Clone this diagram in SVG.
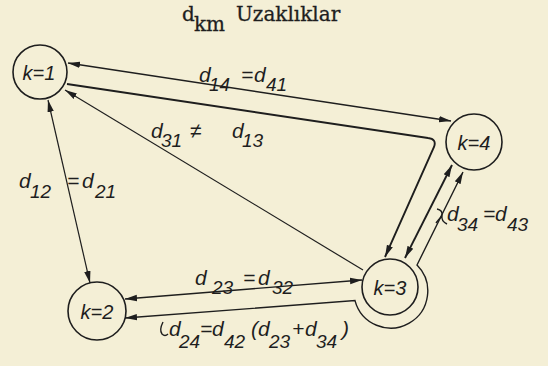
<svg xmlns="http://www.w3.org/2000/svg" width="548" height="366" viewBox="0 0 548 366">
<style>
.bg{fill:#f4efd6}
.node circle{fill:none;stroke:#1e1e1e;stroke-width:1.6}
.node text{font-family:"Liberation Sans",Arial,sans-serif;font-style:italic;font-size:20px;fill:#1e1e1e;text-anchor:middle}
.c{fill:none;stroke:#1e1e1e;stroke-width:1.4}
.thin{stroke-width:1.2}
.thick{stroke-width:1.9}
.lbl text{font-family:"Liberation Sans",Arial,sans-serif;font-style:italic;font-size:21px;fill:#1e1e1e}
.lbl text.s{font-size:19px}
.title{font-family:"DejaVu Serif","Liberation Serif",serif;font-size:20px;fill:#1e1e1e;stroke:#1e1e1e;stroke-width:0.3}
</style>
<defs>
<marker id="ah" viewBox="0 0 12 8" refX="12" refY="4" markerWidth="12" markerHeight="8" markerUnits="userSpaceOnUse" orient="auto-start-reverse">
<path d="M0,0.8 L12,4 L0,7.2 Z" fill="#1e1e1e"/>
</marker>
</defs>
<rect class="bg" x="0" y="0" width="548" height="366"/>
<g id="title">
<text class="title" x="182" y="21">d</text>
<text class="title" x="194" y="31">km</text>
<text class="title" x="236" y="21">Uzaklıklar</text>
</g>
<g id="connectors">
<line class="c" x1="68" y1="63" x2="451" y2="121" marker-start="url(#ah)" marker-end="url(#ah)"/>
<path class="c thick" d="M67,84 L428,138 Q437,139 434,147 L385,257" marker-end="url(#ah)"/>
<line class="c thick" x1="405" y1="258" x2="452" y2="165" marker-start="url(#ah)" marker-end="url(#ah)"/>
<path class="c" d="M463,172 L417,265 A37,37 0 1 1 355,300.6 L125,318" marker-start="url(#ah)" marker-end="url(#ah)"/>
<line class="c" x1="362" y1="280" x2="125" y2="299" marker-start="url(#ah)" marker-end="url(#ah)"/>
<line class="c thin" x1="48" y1="100" x2="90" y2="283" marker-start="url(#ah)" marker-end="url(#ah)"/>
<line class="c thin" x1="363" y1="270" x2="65" y2="90" marker-end="url(#ah)"/>
</g>
<g id="node1" class="node"><circle cx="40" cy="72" r="27"/><text x="39" y="80">k=1</text></g>
<g id="node2" class="node"><circle cx="97" cy="311" r="29"/><text x="97" y="319">k=2</text></g>
<g id="node3" class="node"><circle cx="390" cy="287" r="28"/><text x="390" y="295">k=3</text></g>
<g id="node4" class="node"><circle cx="474" cy="142" r="28"/><text x="474" y="150">k=4</text></g>
<g id="labels" class="lbl">
<g id="l14"><text x="199" y="82">d</text><text class="s" x="209" y="91">14</text><text x="241" y="82">=</text><text x="254" y="82">d</text><text class="s" x="266" y="91">41</text></g>
<g id="l31"><text x="151" y="138">d</text><text class="s" x="161" y="147">31</text><text x="190" y="138">≠</text><text x="232" y="138">d</text><text class="s" x="242" y="147">13</text></g>
<g id="l12"><text x="19" y="188">d</text><text class="s" x="30" y="198">12</text><text x="67" y="188">=</text><text x="82" y="188">d</text><text class="s" x="95" y="198">21</text></g>
<g id="l23"><text x="195" y="285">d</text><text class="s" x="212" y="294">23</text><text x="243" y="285">=</text><text x="258" y="285">d</text><text class="s" x="272" y="294">32</text></g>
<g id="l34"><path class="c" d="M437,209 Q443,210 442,216 Q441,221 447,224 M442,216 Q439,219 436,223"/><text x="447" y="221">d</text><text class="s" x="457" y="231">34</text><text x="483" y="221">=</text><text x="495" y="221">d</text><text class="s" x="507" y="231">43</text></g>
<g id="l24"><path class="c" d="M163,322 Q159,330 162,334 Q165,337 168,334"/><text x="169" y="336">d</text><text class="s" x="179" y="348">24</text><text x="200" y="336">=</text><text x="212" y="336">d</text><text class="s" x="224" y="348">42</text><text x="251" y="336">(</text><text x="258" y="336">d</text><text class="s" x="269" y="348">23</text><text x="292" y="336">+</text><text x="305" y="336">d</text><text class="s" x="316" y="348">34</text><text x="342" y="336">)</text></g>
</g>
</svg>
